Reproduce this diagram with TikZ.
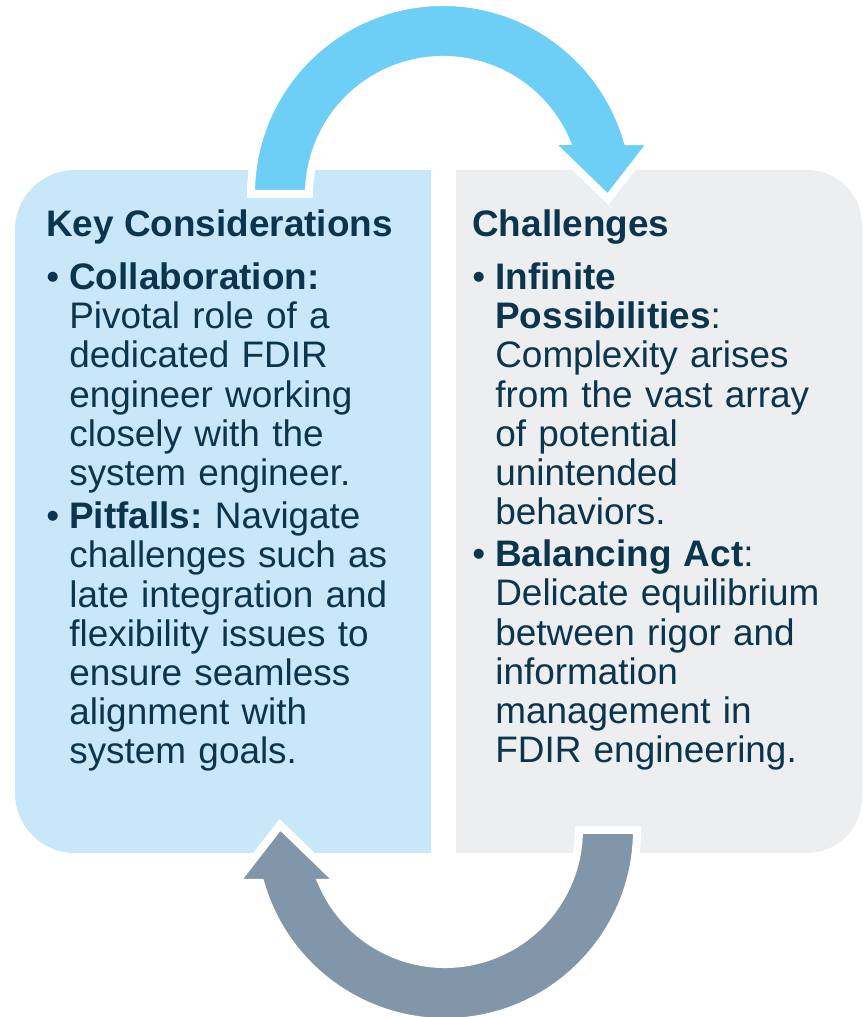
\documentclass[tikz,border=0pt]{standalone}
\usepackage{fontspec}
\setmainfont{Liberation Sans}
\frenchspacing

\definecolor{keyblue}{HTML}{C8E7F9}
\definecolor{challgray}{HTML}{EDEEF0}
\definecolor{skyarrow}{HTML}{6DCFF6}
\definecolor{slatearrow}{HTML}{8196A8}
\definecolor{ink}{HTML}{0B344D}

\tikzset{
  head/.style={anchor=base west, inner sep=0pt, text=ink, font=\fontsize{21}{22.2}\selectfont\bfseries},
  dot/.style={anchor=base west, inner sep=0pt, text=ink, font=\fontsize{21}{22.2}\selectfont},
  item/.style={anchor=base west, inner sep=0pt, text=ink, text width=8cm, align=left, font=\fontsize{21}{22.2}\selectfont},
  turnarrow/.style={draw=white, line width=0.16cm, line join=miter}
}

\begin{document}
\begin{tikzpicture}[x=0.02cm, y=0.02cm]
	\useasboundingbox (0,0) rectangle (862,1017);

	% the two panels
	\fill[keyblue] (431,847) -- (75,847) arc[start angle=90, end angle=180, radius=60]
		-- (15,224) arc[start angle=180, end angle=270, radius=60] -- (431,164) -- cycle;
	\fill[challgray] (456,847) -- (807,847) arc[start angle=90, end angle=0, radius=55]
		-- (862,219) arc[start angle=0, end angle=-90, radius=55] -- (456,164) -- cycle;

	% curved arrows, the lower one is the upper one turned round
	\draw[turnarrow, fill=skyarrow] (251,823) arc[start angle=180, end angle=16.0, radius=192]
		-- (653,876) -- (608,818) -- (548,876) -- (566.1,876)
		arc[start angle=23.3, end angle=180, radius=134] -- cycle;
	\begin{scope}[rotate around={180:(444,505)}]
		\draw[turnarrow, fill=slatearrow] (251,823) arc[start angle=180, end angle=16.0, radius=192]
			-- (653,876) -- (608,818) -- (548,876) -- (566.1,876)
			arc[start angle=23.3, end angle=180, radius=134] -- cycle;
	\end{scope}

	% left column
	\node[head] (keyhead) at (46,780) {Key Considerations};
	\node[dot] (keydot1) at (46,727) {•};
	\node[item] (collab) at (69,727) {\textbf{Collaboration:}\\
		Pivotal role of a\\ dedicated FDIR\\ engineer working\\ closely with the\\ system engineer.};
	\node[dot] (keydot2) at (46,488) {•};
	\node[item] (pitfalls) at (69,488) {\textbf{Pitfalls:} Navigate\\
		challenges such as\\ late integration and\\ flexibility issues to\\ ensure seamless\\ alignment with\\ system goals.};

	% right column
	\node[head] (challhead) at (472,780) {Challenges};
	\node[dot] (challdot1) at (472,727) {•};
	\node[item] (infinite) at (495,727) {\textbf{Infinite}\\ \textbf{Possibilities}:\\
		Complexity arises\\ from the vast array\\ of potential\\ unintended\\ behaviors.};
	\node[dot] (challdot2) at (472,450) {•};
	\node[item] (balance) at (495,450) {\textbf{Balancing Act}:\\
		Delicate equilibrium\\ between rigor and\\ information\\ management in\\ FDIR engineering.};
\end{tikzpicture}
\end{document}
